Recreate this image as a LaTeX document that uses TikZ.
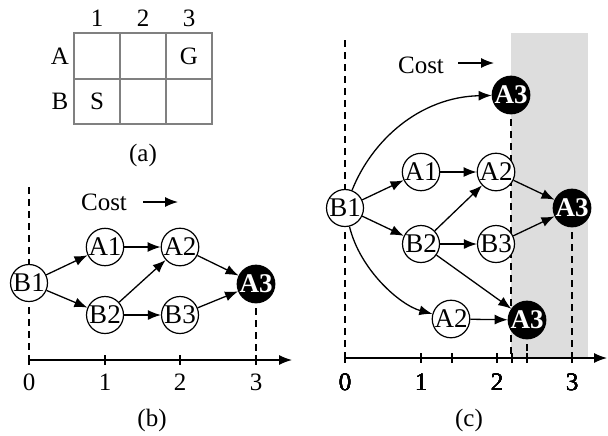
\documentclass[tikz,border=0pt]{standalone}
\usepackage{fontspec}
\setmainfont{Liberation Serif}
\usetikzlibrary{arrows.meta}
\tikzset{st/.style={circle, draw, fill=white, line width=0.6pt, minimum size=18.5pt, inner sep=0pt, font=\fontsize{13.5}{15}\selectfont},
  goal/.style={st, fill=black, text=white, font=\fontsize{13.5}{15}\selectfont\bfseries},
  arr/.style={-{Latex[length=6.5pt,width=5pt]}, line width=0.65pt},
  guide/.style={dash pattern=on 3.5pt off 2.5pt, line width=0.6pt},
  cell/.style={draw=gray, line width=0.6pt},
  tick/.style={line width=0.6pt}}
\newcommand{\axtick}[2]{\draw[tick] (#1,#2-5) -- (#1,#2+5);}

\begin{document}
\begin{tikzpicture}[x=0.5pt, y=-0.5pt, font=\fontsize{12.5}{14}\selectfont]
  \useasboundingbox (0,0) rectangle (608,435);
  % (a) grid world
  \draw[cell] (74,33) rectangle (212,124);
  \foreach \x in {120,166} \draw[cell] (\x,33) -- (\x,124);
  \draw[cell] (74,79) -- (212,79);
  \node (col1) at (97,18) {1};
  \node (col2) at (143,18) {2};
  \node (col3) at (189,18) {3};
  \node (rowA) at (60,56) {A};
  \node (rowB) at (60,101) {B};
  \node (goalG) at (189,56) {G};
  \node (startS) at (97,101) {S};
  \node (capa) at (143,155) {(a)};

  % (b) guides and axis
  \coordinate (bO) at (29,360);
  \coordinate (bE) at (292,360);
  \draw[guide] (29,187) -- (bO);
  \draw[guide] (256,284) -- (256,360);
  \draw[arr] (bO) -- (bE);
  \foreach \x/\t in {29/0,105/1,180/2,256/3} {
    \axtick{\x}{360}
    \node (bt\t) at (\x,382) {\t};
  }
  \node (bcost) at (104,202) {Cost};
  \coordinate (bc0) at (143,202);
  \coordinate (bc1) at (178,202);
  \draw[arr] (bc0) -- (bc1);
  % (b) search nodes
  \node[st] (bB1) at (29,283) {B1};
  \node[st] (bA1) at (105,247) {A1};
  \node[st] (bA2) at (180,247) {A2};
  \node[st] (bB2) at (105,315) {B2};
  \node[st] (bB3) at (180,315) {B3};
  \node[goal] (bA3) at (256,284) {A3};
  \draw[arr] (bB1) -- (bA1);
  \draw[arr] (bB1) -- (bB2);
  \draw[arr] (bA1) -- (bA2);
  \draw[arr] (bB2) -- (bA2);
  \draw[arr] (bB2) -- (bB3);
  \draw[arr] (bA2) -- (bA3);
  \draw[arr] (bB3) -- (bA3);
  \node (capb) at (152,420) {(b)};

  % (c) shaded band, guides and axis
  \fill[gray!27] (511,33) rectangle (588,358);
  \coordinate (cO) at (345,358);
  \coordinate (cE) at (607,358);
  \draw[guide] (345,40) -- (cO);
  \draw[guide] (511,95) -- (511,358);
  \draw[guide] (572,208) -- (572,358);
  \draw[guide] (527,320) -- (527,358);
  \draw[arr] (cO) -- (cE);
  \foreach \x in {345,421,452,497,512,527,572} \axtick{\x}{358}
  \foreach \x/\t in {345/0,421/1,497/2,572/3} \node (ct\t) at (\x,382) {\t};
  \node (ccost) at (421,65) {Cost};
  \coordinate (cc0) at (458,63);
  \coordinate (cc1) at (494,63);
  \draw[arr] (cc0) -- (cc1);
  % (c) search nodes
  \node[st] (cB1) at (345,208) {B1};
  \node[st] (cA1) at (421,172) {A1};
  \node[st] (cA2) at (496,172) {A2};
  \node[st] (cB2) at (421,244) {B2};
  \node[st] (cB3) at (496,244) {B3};
  \node[st] (cA2l) at (451,319) {A2};
  \node[goal] (cA3t) at (511,95) {A3};
  \node[goal] (cA3r) at (572,208) {A3};
  \node[goal] (cA3l) at (527,320) {A3};
  \draw[arr] (cB1) .. controls (372,140) and (420,97) .. (cA3t);
  \draw[arr] (cB1) .. controls (360,270) and (400,305) .. (cA2l);
  \draw[arr] (cB1) -- (cA1);
  \draw[arr] (cB1) -- (cB2);
  \draw[arr] (cA1) -- (cA2);
  \draw[arr] (cB2) -- (cA2);
  \draw[arr] (cB2) -- (cB3);
  \draw[arr] (cA2) -- (cA3r);
  \draw[arr] (cB3) -- (cA3r);
  \draw[arr] (cB2) -- (cA3l);
  \draw[arr] (cA2l) -- (cA3l);
  \node (capc) at (469,420) {(c)};
\end{tikzpicture}
\end{document}
